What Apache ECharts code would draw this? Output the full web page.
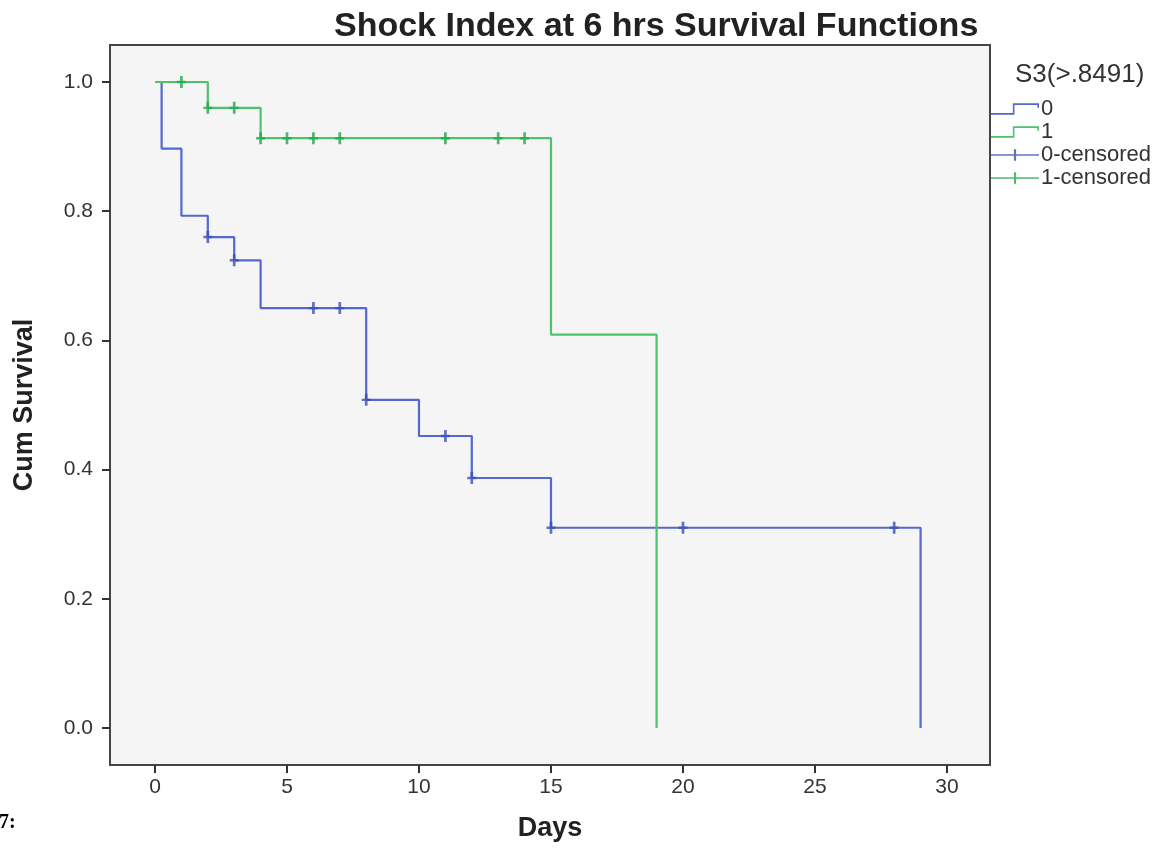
<!DOCTYPE html>
<html>
<head>
<meta charset="utf-8">
<script src="https://cdn.jsdelivr.net/npm/echarts@6/dist/echarts.min.js"></script>
<style>html,body{margin:0;padding:0;background:#fff}#c{width:1172px;height:848px}</style>
</head>
<body>
<div id="c"></div>
<script>
// Kaplan-Meier step points [day, cumulative survival]
const group0Steps = [[0,1.0],[0.25,0.897],[1,0.793],[2,0.760],[3,0.724],[4,0.650],[8,0.508],[10,0.452],[12,0.387],[15,0.310],[29,0.0]];
const group1Steps = [[0,1.0],[2,0.960],[4,0.913],[15,0.609],[19,0.0]];
// censored observations
const group0Censored = [[2,0.760],[3,0.724],[6,0.650],[7,0.650],[8,0.508],[11,0.452],[12,0.387],[15,0.310],[20,0.310],[28,0.310]];
const group1Censored = [[1,1.0],[2,0.960],[3,0.960],[4,0.913],[5,0.913],[6,0.913],[7,0.913],[11,0.913],[13,0.913],[14,0.913]];
const xTicks = [0,5,10,15,20,25,30];
const yTicks = [0,0.2,0.4,0.6,0.8,1.0];
const seriesNames = ['0','1','0-censored','1-censored'];

const FONT = 'Liberation Sans, Arial, sans-serif';
const blue = '#5468d0', green = '#4cc46c', blueMark = '#3a4db8', greenMark = '#22a84a';
const plusPath = 'path://M3.5,0 L6.5,0 L6.5,4 L10,4 L10,6 L6.5,6 L6.5,10 L3.5,10 L3.5,6 L0,6 L0,4 L3.5,4 Z';
const stepIcon = 'path://M0,9 L20,9 L20,0 L44,0 L44,4 L42.5,4 L42.5,1.5 L21.5,1.5 L21.5,10.5 L0,10.5 Z';
const censIcon = 'path://M0,4.5 L21,4.5 L21,0 L23,0 L23,4.5 L44,4.5 L44,6 L23,6 L23,10.5 L21,10.5 L21,6 L0,6 Z';

const chart = echarts.init(document.getElementById('c'));
chart.setOption({
  backgroundColor: '#ffffff',
  animation: false,
  title: [
    {text: 'Shock Index at 6 hrs Survival Functions', left: 329, top: 5,
     textStyle: {fontFamily: FONT, fontSize: 34, fontWeight: 'bold', color: '#222'}},
    {text: 'S3(>.8491)', left: 1010, top: 57,
     textStyle: {fontFamily: FONT, fontSize: 26, fontWeight: 'normal', color: '#333'}}
  ],
  legend: {
    orient: 'vertical', left: 986, top: 93, itemGap: 1, itemWidth: 48, itemHeight: 12,
    textStyle: {fontFamily: FONT, fontSize: 22, color: '#333', padding: [0,0,0,-3]},
    data: [
      {name: seriesNames[0], icon: stepIcon},
      {name: seriesNames[1], icon: stepIcon},
      {name: seriesNames[2], icon: censIcon},
      {name: seriesNames[3], icon: censIcon}
    ]
  },
  grid: {left: 110, right: 182, top: 45, bottom: 83, show: true,
         backgroundColor: '#f5f5f5', borderColor: '#444', borderWidth: 2},
  xAxis: {
    type: 'value', min: -1.705, max: 31.63,
    name: 'Days', nameLocation: 'middle', nameGap: 50,
    nameTextStyle: {fontFamily: FONT, fontSize: 27, fontWeight: 'bold', color: '#222'},
    axisLine: {show: true, onZero: false, lineStyle: {color: '#444', width: 2}},
    axisTick: {show: true, length: 8, lineStyle: {color: '#333', width: 2}, customValues: xTicks},
    axisLabel: {fontFamily: FONT, fontSize: 21, color: '#333', margin: 12, customValues: xTicks},
    splitLine: {show: false}
  },
  yAxis: {
    type: 'value', min: -0.0573, max: 1.0573,
    name: 'Cum Survival', nameLocation: 'middle', nameGap: 72, nameRotate: 90,
    nameTextStyle: {fontFamily: FONT, fontSize: 27, fontWeight: 'bold', color: '#222'},
    axisLine: {show: true, onZero: false, lineStyle: {color: '#444', width: 2}},
    axisTick: {show: true, length: 8, lineStyle: {color: '#333', width: 2}, customValues: yTicks},
    axisLabel: {fontFamily: FONT, fontSize: 21, color: '#333', margin: 17, customValues: yTicks,
                formatter: v => v.toFixed(1)},
    splitLine: {show: false}
  },
  series: [
    {name: seriesNames[0], type: 'line', step: 'end', data: group0Steps, showSymbol: false, symbol: 'none',
     lineStyle: {color: blue, width: 2.2}, itemStyle: {color: blue}},
    {name: seriesNames[1], type: 'line', step: 'end', data: group1Steps, showSymbol: false, symbol: 'none',
     lineStyle: {color: green, width: 2.2}, itemStyle: {color: green}},
    {name: seriesNames[2], type: 'scatter', data: group0Censored, symbol: plusPath, symbolSize: [9, 12],
     itemStyle: {color: blueMark}, z: 5},
    {name: seriesNames[3], type: 'scatter', data: group1Censored, symbol: plusPath, symbolSize: [9, 12],
     itemStyle: {color: greenMark}, z: 5}
  ],
  graphic: [
    {type: 'text', left: -1, top: 813,
     style: {text: '7:', font: 'bold 20px "Liberation Serif", "DejaVu Serif", serif', fill: '#000'}}
  ]
});
</script>
</body>
</html>
